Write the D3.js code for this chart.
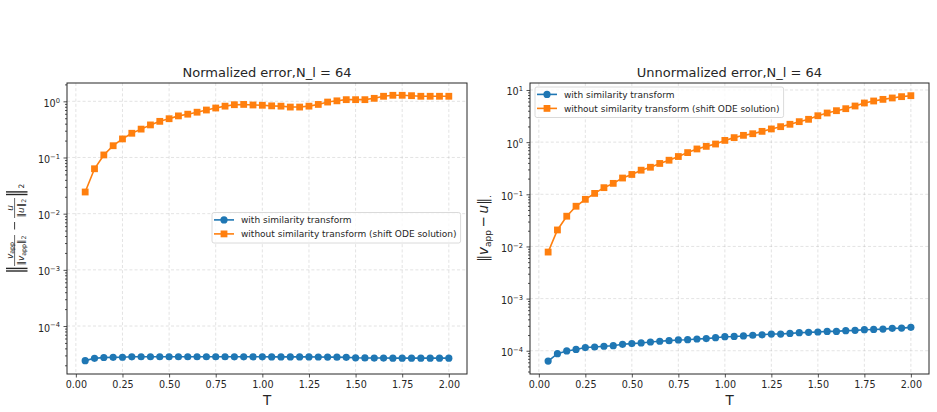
<!DOCTYPE html>
<html>
<head>
<meta charset="utf-8">
<script src="https://cdn.jsdelivr.net/npm/d3@7"></script>
<style>
  body { margin: 0; background: #fff; }
  svg, svg text { font-family: "DejaVu Sans", sans-serif; }
</style>
</head>
<body>
<div id="chart"></div>
<script>
// time points
const T = [0.05, 0.10, 0.15, 0.20, 0.25, 0.30, 0.35, 0.40, 0.45, 0.50,
           0.55, 0.60, 0.65, 0.70, 0.75, 0.80, 0.85, 0.90, 0.95, 1.00,
           1.05, 1.10, 1.15, 1.20, 1.25, 1.30, 1.35, 1.40, 1.45, 1.50,
           1.55, 1.60, 1.65, 1.70, 1.75, 1.80, 1.85, 1.90, 1.95, 2.00];

// normalized error
const normWith = [2.42e-5, 2.66e-5, 2.75e-5, 2.77e-5, 2.78e-5, 2.83e-5, 2.84e-5, 2.84e-5, 2.84e-5, 2.84e-5,
                  2.84e-5, 2.84e-5, 2.84e-5, 2.84e-5, 2.84e-5, 2.84e-5, 2.83e-5, 2.83e-5, 2.83e-5, 2.83e-5,
                  2.82e-5, 2.82e-5, 2.82e-5, 2.82e-5, 2.82e-5, 2.81e-5, 2.80e-5, 2.79e-5, 2.77e-5, 2.72e-5,
                  2.70e-5, 2.69e-5, 2.69e-5, 2.68e-5, 2.68e-5, 2.68e-5, 2.68e-5, 2.68e-5, 2.68e-5, 2.68e-5];
const normWithout = [0.0243, 0.063, 0.111, 0.162, 0.214, 0.27, 0.32, 0.38, 0.44, 0.49,
                     0.55, 0.59, 0.64, 0.70, 0.76, 0.82, 0.87, 0.88, 0.86, 0.85,
                     0.83, 0.82, 0.79, 0.79, 0.82, 0.88, 0.97, 1.02, 1.07, 1.07,
                     1.07, 1.13, 1.23, 1.28, 1.28, 1.26, 1.23, 1.23, 1.23, 1.23];

// unnormalized error
const unnormWith = [6.35e-5, 8.8e-5, 9.9e-5, 1.06e-4, 1.15e-4, 1.18e-4, 1.22e-4, 1.25e-4, 1.33e-4, 1.37e-4,
                    1.41e-4, 1.47e-4, 1.52e-4, 1.56e-4, 1.61e-4, 1.63e-4, 1.68e-4, 1.71e-4, 1.78e-4, 1.86e-4,
                    1.88e-4, 1.92e-4, 1.98e-4, 2.02e-4, 2.09e-4, 2.09e-4, 2.15e-4, 2.22e-4, 2.25e-4, 2.29e-4,
                    2.35e-4, 2.35e-4, 2.43e-4, 2.46e-4, 2.53e-4, 2.56e-4, 2.60e-4, 2.69e-4, 2.72e-4, 2.81e-4];
const unnormWithout = [0.0078, 0.0207, 0.038, 0.059, 0.080, 0.104, 0.134, 0.162, 0.205, 0.24,
                       0.29, 0.33, 0.39, 0.45, 0.53, 0.63, 0.74, 0.83, 0.92, 1.08,
                       1.22, 1.35, 1.45, 1.61, 1.79, 1.98, 2.2, 2.47, 2.74, 3.21,
                       3.62, 4.01, 4.38, 4.93, 5.63, 6.15, 6.61, 7.03, 7.45, 7.78];

const seriesNames = ['with similarity transform', 'without similarity transform (shift ODE solution)'];
const xTicks = [0, 0.25, 0.5, 0.75, 1.0, 1.25, 1.5, 1.75, 2.0];

const W = 937, H = 412;
const blue = '#1f77b4', orange = '#ff7f0e';
const ink = '#262626';
const FONT = '"DejaVu Sans", sans-serif';

const svg = d3.select('#chart').append('svg')
    .attr('width', W)
    .attr('height', H);

const expText = e => (e < 0 ? '\u2212' : '') + Math.abs(e);

function panel(cfg) {
    const g = svg.append('g').attr('transform', `translate(${cfg.left},${cfg.top})`);
    const x = d3.scaleLinear().domain([-0.0475, 2.0975]).range([0, cfg.w]);
    const y = d3.scaleLog().domain(cfg.yDomain).range([cfg.h, 0]);

    const majors = d3.range(cfg.eMin, cfg.eMax + 1).map(e => Math.pow(10, e));
    const minors = [];
    for (let e = cfg.eMin - 1; e <= cfg.eMax; e++) {
        for (let k = 2; k <= 9; k++) {
            const v = k * Math.pow(10, e);
            if (v >= cfg.yDomain[0] && v <= cfg.yDomain[1]) minors.push(v);
        }
    }

    // grid
    const grid = g.append('g')
        .attr('stroke', '#b0b0b0')
        .attr('stroke-opacity', 0.45)
        .attr('stroke-width', 0.8)
        .attr('stroke-dasharray', '3,2.2');
    grid.selectAll('.gx').data(xTicks).join('line')
        .attr('x1', d => x(d)).attr('x2', d => x(d))
        .attr('y1', 0).attr('y2', cfg.h);
    grid.selectAll('.gy').data(majors).join('line')
        .attr('y1', d => y(d)).attr('y2', d => y(d))
        .attr('x1', 0).attr('x2', cfg.w);

    // series
    const line = d3.line().x((d, i) => x(T[i])).y(d => y(d));
    g.append('path').datum(cfg.withData)
        .attr('fill', 'none').attr('stroke', blue).attr('stroke-width', 1.6)
        .attr('d', line);
    g.selectAll('.dotA').data(cfg.withData).join('circle')
        .attr('cx', (d, i) => x(T[i])).attr('cy', d => y(d))
        .attr('r', 3.6).attr('fill', blue);
    g.append('path').datum(cfg.withoutData)
        .attr('fill', 'none').attr('stroke', orange).attr('stroke-width', 1.6)
        .attr('d', line);
    g.selectAll('.sqB').data(cfg.withoutData).join('rect')
        .attr('x', (d, i) => x(T[i]) - 3.4).attr('y', d => y(d) - 3.4)
        .attr('width', 6.8).attr('height', 6.8).attr('fill', orange);

    // axes
    const xAxis = g.append('g')
        .attr('transform', `translate(0,${cfg.h})`)
        .call(d3.axisBottom(x).tickValues(xTicks).tickFormat(d3.format('.2f'))
            .tickSize(3.5).tickPadding(3.5));
    const yAxis = g.append('g')
        .call(d3.axisLeft(y).tickValues(majors).tickSize(3.5).tickPadding(3.5));
    yAxis.selectAll('.tick text')
        .attr('dy', '0.52em')
        .each(function (d) {
            const t = d3.select(this).text('');
            t.append('tspan').text('10');
            t.append('tspan').attr('dy', '-0.62em').attr('font-size', '0.7em')
                .text(expText(Math.round(Math.log10(d))));
        });
    g.append('g')
        .call(d3.axisLeft(y).tickValues(minors).tickSize(2).tickFormat(''))
        .call(a => a.select('.domain').remove());

    [xAxis, yAxis].forEach(a => {
        a.attr('font-family', FONT).attr('font-size', 9.6);
        a.selectAll('text').attr('fill', ink);
        a.select('.domain').remove();
    });
    g.selectAll('.tick line').attr('stroke', ink).attr('stroke-width', 0.8);

    // frame
    g.append('rect')
        .attr('width', cfg.w).attr('height', cfg.h)
        .attr('fill', 'none').attr('stroke', ink).attr('stroke-width', 1);

    // title and xlabel
    g.append('text')
        .attr('x', cfg.w / 2).attr('y', -6)
        .attr('text-anchor', 'middle')
        .attr('font-size', 13).attr('fill', ink)
        .text(cfg.title);
    g.append('text')
        .attr('x', cfg.w / 2).attr('y', cfg.h + 31)
        .attr('text-anchor', 'middle')
        .attr('font-size', 13.5).attr('fill', ink)
        .text('T');

    // legend
    const lg = g.append('g').attr('transform', `translate(${cfg.legend[0]},${cfg.legend[1]})`);
    const box = lg.append('rect')
        .attr('rx', 2).attr('fill', '#fff').attr('fill-opacity', 0.8)
        .attr('stroke', '#d0d0d0').attr('stroke-width', 0.8);
    let maxW = 0;
    seriesNames.forEach((name, i) => {
        const yy = 7.4 + i * 14;
        const c = i === 0 ? blue : orange;
        lg.append('line').attr('x1', 2).attr('x2', 22).attr('y1', yy).attr('y2', yy)
            .attr('stroke', c).attr('stroke-width', 1.6);
        if (i === 0) {
            lg.append('circle').attr('cx', 12).attr('cy', yy).attr('r', 3.6).attr('fill', c);
        } else {
            lg.append('rect').attr('x', 12 - 3.4).attr('y', yy - 3.4)
                .attr('width', 6.8).attr('height', 6.8).attr('fill', c);
        }
        const t = lg.append('text').attr('x', 29).attr('y', yy).attr('dy', '0.35em')
            .attr('font-size', 9).attr('fill', ink).text(name);
        maxW = Math.max(maxW, t.node().getComputedTextLength());
    });
    box.attr('width', 29 + maxW + 4).attr('height', 30.5);

    return g;
}

panel({
    left: 67, top: 83, w: 400, h: 291,
    yDomain: [Math.pow(10, -4.854), Math.pow(10, 0.326)], eMin: -4, eMax: 0,
    withData: normWith, withoutData: normWithout,
    title: 'Normalized error,N_l = 64',
    legend: [145, 129.5]
});

panel({
    left: 530, top: 83, w: 399, h: 291,
    yDomain: [Math.pow(10, -4.446), Math.pow(10, 1.134)], eMin: -4, eMax: 1,
    withData: unnormWith, withoutData: unnormWithout,
    title: 'Unnormalized error,N_l = 64',
    legend: [5, 4]
});

// left y label: || v_app/||v_app||_2 - u/||u||_2 ||_2 (rotated)
const yl = svg.append('g')
    .attr('transform', 'translate(17,229) rotate(-90)')
    .attr('fill', ink).attr('stroke', 'none');
function dbar(g, x0, y0, y1, sw) {
    [0, 2.6].forEach(o => g.append('line')
        .attr('x1', x0 + o).attr('x2', x0 + o).attr('y1', y0).attr('y2', y1)
        .attr('stroke', ink).attr('stroke-width', sw));
}
dbar(yl, -42, -11, 10.5, 1.4);
dbar(yl, 34.5, -11, 10.5, 1.4);
const frac = (cx, num, den, bx0, bx1) => {
    const n = yl.append('text').attr('x', cx).attr('y', -4.5).attr('text-anchor', 'middle').attr('font-size', 9);
    num(n);
    yl.append('line').attr('x1', bx0).attr('x2', bx1).attr('y1', -2.4).attr('y2', -2.4)
        .attr('stroke', ink).attr('stroke-width', 0.7);
    const d = yl.append('text').attr('x', cx).attr('y', 7).attr('text-anchor', 'middle').attr('font-size', 9);
    den(d);
};
frac(-21.5,
    t => { t.append('tspan').attr('font-style', 'italic').text('v');
           t.append('tspan').attr('font-size', 6.3).attr('dy', 1.5).text('app'); },
    t => { t.append('tspan').text('\u2016');
           t.append('tspan').attr('font-style', 'italic').text('v');
           t.append('tspan').attr('font-size', 6.3).attr('dy', 1.5).text('app');
           t.append('tspan').attr('dy', -1.5).text('\u2016');
           t.append('tspan').attr('font-size', 6.3).attr('dy', 1.5).text('2'); },
    -37, -6);
yl.append('line').attr('x1', -0.5).attr('x2', 7).attr('y1', -2.4).attr('y2', -2.4)
    .attr('stroke', ink).attr('stroke-width', 0.9);
frac(21,
    t => { t.append('tspan').attr('font-style', 'italic').text('u'); },
    t => { t.append('tspan').text('\u2016');
           t.append('tspan').attr('font-style', 'italic').text('u');
           t.append('tspan').text('\u2016');
           t.append('tspan').attr('font-size', 6.3).attr('dy', 1.5).text('2'); },
    11, 31);
yl.append('text').attr('x', 40.5).attr('y', 7).attr('font-size', 7.5).text('2');

// right y label: ||v_app - u||_. (rotated, centred on its own bounding box)
const yrG = svg.append('g').attr('transform', 'translate(488,228.5) rotate(-90)');
const yr = yrG.append('text')
    .attr('font-size', 13.5).attr('fill', ink);
yr.append('tspan').text('\u2016');
yr.append('tspan').attr('font-style', 'italic').text('v');
yr.append('tspan').attr('font-size', 9).attr('dy', 3).text('app');
yr.append('tspan').attr('dy', -3).text('\u2009\u2212\u2009');
yr.append('tspan').attr('font-style', 'italic').text('u');
yr.append('tspan').text('\u2016');
yr.append('tspan').attr('font-size', 9).attr('dy', 3).text('.');
const bb = yr.node().getBBox();
yr.attr('x', -(bb.x + bb.width / 2));
</script>
</body>
</html>
